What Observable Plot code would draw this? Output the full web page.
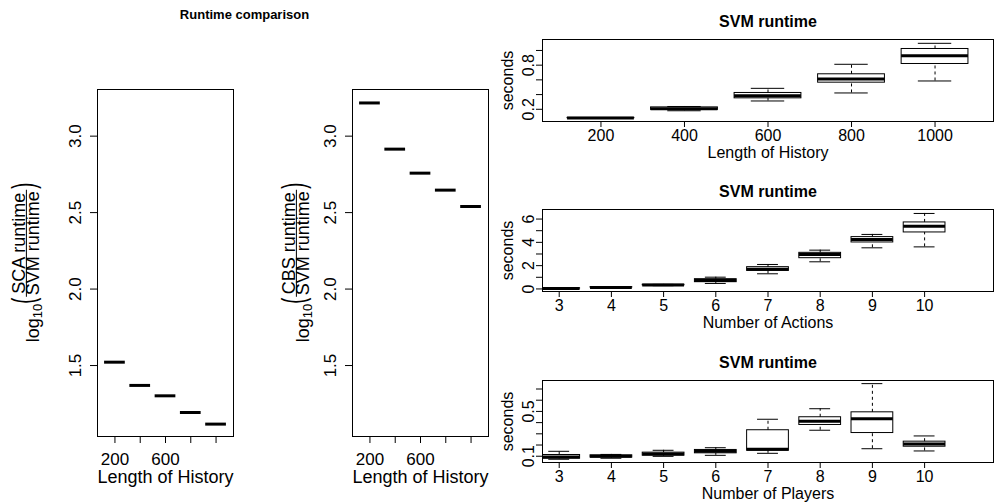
<!DOCTYPE html>
<html>
<head>
<meta charset="utf-8">
<script src="https://cdn.jsdelivr.net/npm/d3@7"></script>
<script src="https://cdn.jsdelivr.net/npm/@observablehq/plot@0.6"></script>
<style>
html, body { margin: 0; padding: 0; background: #fff; }
#wrap { position: relative; width: 998px; height: 502px; overflow: hidden; background: #fff; }
#wrap svg { position: absolute; left: 0; top: 0; }
</style>
</head>
<body>
<div id="wrap"></div>
<script>
// ---------- data ----------
const historyLengths = [200, 400, 600, 800, 1000];
const scaOverSvmLog10 = [1.522, 1.370, 1.302, 1.193, 1.117];
const cbsOverSvmLog10 = [3.217, 2.915, 2.758, 2.647, 2.540];

const svmHistMin = [0.076, 0.180, 0.313, 0.422, 0.585];
const svmHistQ1  = [0.079, 0.192, 0.349, 0.562, 0.816];
const svmHistMed = [0.081, 0.208, 0.385, 0.612, 0.929];
const svmHistQ3  = [0.083, 0.226, 0.422, 0.676, 1.020];
const svmHistMax = [0.086, 0.238, 0.485, 0.812, 1.097];

const numActions = [3, 4, 5, 6, 7, 8, 9, 10];
const svmActMin = [0.02, 0.10, 0.28, 0.47, 1.30, 2.33, 3.53, 3.61];
const svmActQ1  = [0.03, 0.12, 0.31, 0.58, 1.55, 2.64, 3.99, 4.85];
const svmActMed = [0.04, 0.13, 0.33, 0.73, 1.70, 2.96, 4.25, 5.39];
const svmActQ3  = [0.05, 0.15, 0.36, 0.84, 1.87, 3.10, 4.45, 5.71];
const svmActMax = [0.07, 0.17, 0.39, 1.01, 2.10, 3.33, 4.68, 6.48];

const numPlayers = [3, 4, 5, 6, 7, 8, 9, 10];
const svmPlayMin = [0.073, 0.082, 0.099, 0.108, 0.126, 0.332, 0.167, 0.147];
const svmPlayQ1  = [0.078, 0.088, 0.105, 0.126, 0.149, 0.379, 0.307, 0.185];
const svmPlayMed = [0.093, 0.100, 0.120, 0.144, 0.162, 0.412, 0.435, 0.209];
const svmPlayQ3  = [0.111, 0.108, 0.132, 0.156, 0.332, 0.448, 0.492, 0.230];
const svmPlayMax = [0.144, 0.116, 0.153, 0.176, 0.430, 0.524, 0.748, 0.281];

// tick values
const ratioTicks = [1.5, 2.0, 2.5, 3.0];
const leftXTickLabels = [200, 600];
const histSecTicks = [0.2, 0.4, 0.6, 0.8, 1.0];
const histSecLabels = [0.2, 0.8];
const actSecTicks = [0, 1, 2, 3, 4, 5, 6];
const actSecLabels = [0, 2, 4, 6];
const playSecTicks = [0.1, 0.2, 0.3, 0.4, 0.5, 0.6, 0.7];
const playSecLabels = [0.1, 0.5];

// ---------- setup ----------
const W = 998, H = 502;
const FONT = '"Liberation Sans", Arial, Helvetica, sans-serif';
const wrap = document.getElementById("wrap");
const baseStyle = {background: "transparent", fontFamily: FONT, color: "black", overflow: "visible"};
const C = {textAnchor: "middle", lineAnchor: "middle"};

function boxRows(xs, mn, q1, md, q3, mx) {
  return xs.map((x, i) => ({x, min: mn[i], q1: q1[i], med: md[i], q3: q3[i], max: mx[i]}));
}

function boxMarks(rows, hw, cw) {
  return [
    Plot.ruleX(rows, {x: "x", y1: "q3", y2: "max", stroke: "black", strokeDasharray: "3,3", clip: true}),
    Plot.ruleX(rows, {x: "x", y1: "min", y2: "q1", stroke: "black", strokeDasharray: "3,3", clip: true}),
    Plot.ruleY(rows, {y: "max", x1: d => d.x - cw, x2: d => d.x + cw, stroke: "black", clip: true}),
    Plot.ruleY(rows, {y: "min", x1: d => d.x - cw, x2: d => d.x + cw, stroke: "black", clip: true}),
    Plot.rect(rows, {x1: d => d.x - hw, x2: d => d.x + hw, y1: "q1", y2: "q3", fill: "none", stroke: "black", clip: true}),
    Plot.ruleY(rows, {y: "med", x1: d => d.x - hw, x2: d => d.x + hw, stroke: "black", strokeWidth: 3, clip: true})
  ];
}

function rightPanel(f, xdom, ydom, rows, hw, cw, xTicks, yTicks, yLabels, yFmt, xTitle) {
  return Plot.plot({
    width: W, height: H,
    marginLeft: f.l, marginRight: W - f.r, marginTop: f.t, marginBottom: H - f.b,
    x: {domain: xdom}, y: {domain: ydom},
    style: baseStyle,
    marks: [
      ...boxMarks(rows, hw, cw),
      Plot.frame({stroke: "black"}),
      Plot.axisX(xTicks, {anchor: "bottom", tickSize: 6, tickFormat: () => "", label: null}),
      Plot.axisY(yTicks, {anchor: "left", tickSize: 6, tickFormat: () => "", label: null}),
      Plot.text(xTicks, {...C, x: d => d, text: d => String(d), frameAnchor: "bottom", dy: 14, fontSize: 16}),
      Plot.text(yLabels, {...C, y: d => d, text: yFmt, frameAnchor: "left", dx: -13.2, rotate: -90, fontSize: 16}),
      Plot.text([xTitle], {...C, text: d => d, frameAnchor: "bottom", dy: 31.2, fontSize: 16}),
      Plot.text(["seconds"], {...C, text: d => d, frameAnchor: "left", dx: -34.3, rotate: -90, fontSize: 16}),
      Plot.text(["SVM runtime"], {...C, text: d => d, frameAnchor: "top", dy: -18.1, fontSize: 16, fontWeight: "bold"})
    ]
  });
}

function leftPanel(f, vals, extra) {
  const rows = historyLengths.map((x, i) => ({x, v: vals[i]}));
  return Plot.plot({
    width: W, height: H,
    marginLeft: f.l, marginRight: W - f.r, marginTop: f.t, marginBottom: H - f.b,
    x: {domain: [62, 1138]}, y: {domain: [1.036, 3.305]},
    style: baseStyle,
    marks: [
      Plot.ruleY(rows, {y: "v", x1: d => d.x - 82, x2: d => d.x + 82, stroke: "black", strokeWidth: 3}),
      Plot.frame({stroke: "black"}),
      Plot.axisX(historyLengths, {anchor: "bottom", tickSize: 7, tickFormat: () => "", label: null}),
      Plot.axisY(ratioTicks, {anchor: "left", tickSize: 7, tickFormat: () => "", label: null}),
      Plot.text(leftXTickLabels, {...C, x: d => d, text: d => String(d), frameAnchor: "bottom", dy: 22.9, fontSize: 17}),
      Plot.text(ratioTicks, {...C, y: d => d, text: d => d3.format(".1f")(d), frameAnchor: "left", dx: -21.7, rotate: -90, fontSize: 17}),
      Plot.text(["Length of History"], {...C, text: d => d, frameAnchor: "bottom", dy: 40.7, fontSize: 18}),
      ...extra
    ]
  });
}

// fraction-style y label: log10( num / den ), laid out along the rotated axis
function fracLabel(svg, o) {
  const fs = 18;
  const g = d3.select(svg).append("g")
    .attr("transform", `translate(0,${o.cy}) rotate(-90)`)
    .attr("font-family", FONT).attr("fill", "black").attr("text-anchor", "start");
  const mk = t => g.append("text").attr("text-anchor", "start").attr("font-size", fs).text(t);
  const tLog = mk("log");
  const tSub = mk("10").attr("font-size", fs * 0.72);
  const tL = mk("(");
  const tNum = mk(o.num);
  const tDen = mk(o.den);
  const tR = mk(")");
  const len = s => s.node().getComputedTextLength();
  const wLog = len(tLog), wSub = len(tSub), wP = len(tL), wNum = len(tNum), wDen = len(tDen);
  const wFrac = Math.max(wNum, wDen) + 3;
  const total = wLog + wSub + wP + 1 + wFrac + 1 + wP;
  let u = -total / 2;
  tLog.attr("x", u).attr("y", o.vBase); u += wLog;
  tSub.attr("x", u).attr("y", o.vBase + 2.4); u += wSub;
  tL.attr("transform", `translate(${u},${o.vParen}) scale(1,1.72)`); u += wP + 1;
  const uc = u + wFrac / 2;
  tNum.attr("x", uc - wNum / 2).attr("y", o.vNum);
  tDen.attr("x", uc - wDen / 2).attr("y", o.vBase);
  g.append("line").attr("x1", u).attr("x2", u + wFrac).attr("y1", o.vBar).attr("y2", o.vBar)
    .attr("stroke", "black").attr("stroke-width", 1);
  u += wFrac + 1;
  tR.attr("transform", `translate(${u},${o.vParen}) scale(1,1.72)`);
}

// ---------- panels ----------
const fA = {l: 97, r: 233, t: 89, b: 436};
const fB = {l: 352, r: 488, t: 89, b: 436};
const fC = {l: 542, r: 993, t: 39, b: 121};
const fD = {l: 542, r: 993, t: 209, b: 291};
const fE = {l: 542, r: 993, t: 380, b: 462};

const pA = leftPanel(fA, scaOverSvmLog10, [
  Plot.text(["Runtime comparison"], {...C, text: d => d, frameAnchor: "top-left", dx: 147, dy: -75, fontSize: 13, fontWeight: "bold"})
]);
const pB = leftPanel(fB, cbsOverSvmLog10, []);

const pC = rightPanel(fC, [60, 1140], [0.034, 1.149],
  boxRows(historyLengths, svmHistMin, svmHistQ1, svmHistMed, svmHistQ3, svmHistMax),
  80, 40, historyLengths, histSecTicks, histSecLabels, d => d3.format(".1f")(d), "Length of History");
const pD = rightPanel(fD, [2.68, 11.32], [-0.22, 6.82],
  boxRows(numActions, svmActMin, svmActQ1, svmActMed, svmActQ3, svmActMax),
  0.4, 0.2, numActions, actSecTicks, actSecLabels, d => String(d), "Number of Actions");
const pE = rightPanel(fE, [2.68, 11.32], [0.044, 0.776],
  boxRows(numPlayers, svmPlayMin, svmPlayQ1, svmPlayMed, svmPlayQ3, svmPlayMax),
  0.4, 0.2, numPlayers, playSecTicks, playSecLabels, d => d3.format(".1f")(d), "Number of Players");

[pA, pB, pC, pD, pE].forEach(p => wrap.appendChild(p));

fracLabel(pA, {cy: 262.5, num: "SCA runtime", den: "SVM runtime", vNum: 25, vBar: 26.4, vBase: 39.3, vParen: 34.2});
fracLabel(pB, {cy: 262.5, num: "CBS runtime", den: "SVM runtime", vNum: 295, vBar: 296.4, vBase: 309.3, vParen: 304.2});
</script>
</body>
</html>
